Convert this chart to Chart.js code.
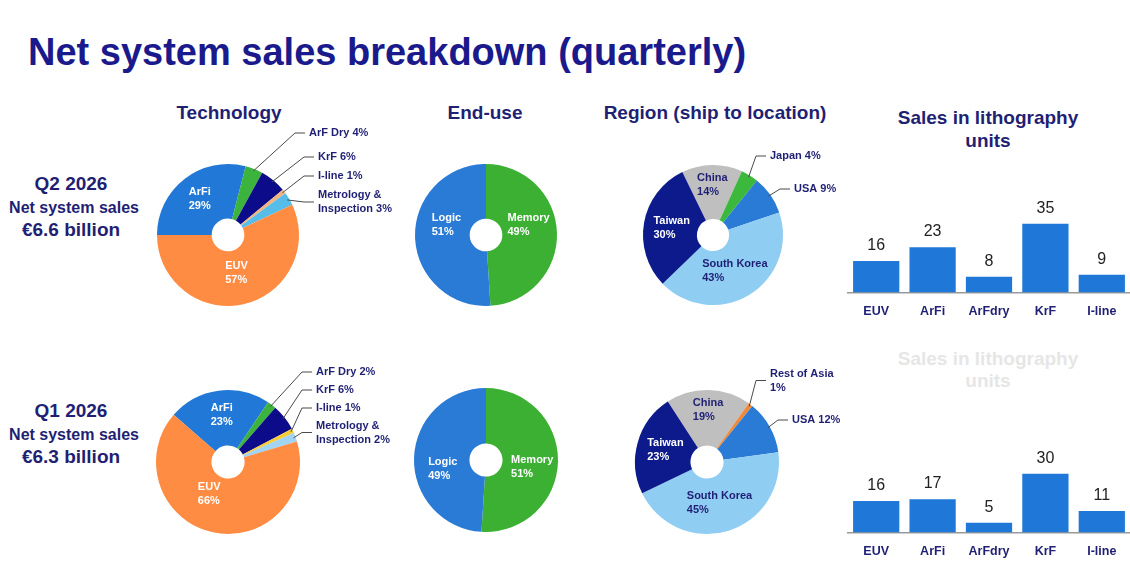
<!DOCTYPE html>
<html lang="en">
<head>
<meta charset="UTF-8">
<title>Net system sales breakdown (quarterly)</title>
<script src="https://cdn.jsdelivr.net/npm/chart.js@4.4.1/dist/chart.umd.min.js"></script>
<style>
    body {
        margin: 0;
        width: 1130px;
        height: 576px;
        background: #fff;
        position: relative;
        overflow: hidden;
        font-family: Arial, "Liberation Sans", sans-serif;
    }
    .t {
        position: absolute;
        color: #1f1f74;
        font-weight: bold;
        white-space: nowrap;
        line-height: 1;
        transform: translate(-50%, -50%);
    }
    .h { font-size: 19px; }
    .big { font-size: 19px; }
    .mid { font-size: 16px; }
    .faint { color: #e6e6e6; }
    #title {
        position: absolute;
        left: 28px;
        top: 33px;
        font-size: 38px;
        font-weight: bold;
        color: #1a1a8c;
        line-height: 1;
        white-space: nowrap;
    }
    canvas { position: absolute; }
</style>
</head>
<body>
<div id="title">Net system sales breakdown (quarterly)</div>

<div class="t big" style="left:71px; top:183px;">Q2 2026</div>
<div class="t mid" style="left:74px; top:208px;">Net system sales</div>
<div class="t big" style="left:71px; top:229px;">€6.6 billion</div>

<div class="t big" style="left:71px; top:410px;">Q1 2026</div>
<div class="t mid" style="left:74px; top:435px;">Net system sales</div>
<div class="t big" style="left:71px; top:456px;">€6.3 billion</div>

<div class="t h" style="left:229px; top:112px;">Technology</div>
<div class="t h" style="left:485px; top:112px;">End-use</div>
<div class="t h" style="left:715px; top:112px;">Region (ship to location)</div>
<div class="t h" style="left:988px; top:117px;">Sales in lithography</div>
<div class="t h" style="left:988px; top:140px;">units</div>
<div class="t h faint" style="left:988px; top:358px;">Sales in lithography</div>
<div class="t h faint" style="left:988px; top:380px;">units</div>

<canvas id="techQ2"></canvas>
<canvas id="endQ2"></canvas>
<canvas id="regQ2"></canvas>
<canvas id="techQ1"></canvas>
<canvas id="endQ1"></canvas>
<canvas id="regQ1"></canvas>
<canvas id="unitsQ2"></canvas>
<canvas id="unitsQ1"></canvas>

<script>
// data
const techNames = ['ArFi', 'ArF Dry', 'KrF', 'I-line', 'Metrology & Inspection', 'EUV'];
const techQ2 = [29, 4, 6, 1, 3, 57];
const techQ1 = [23, 2, 6, 1, 2, 66];

const endUseNames = ['Memory', 'Logic'];
const endUseQ2 = [49, 51];
const endUseQ1 = [51, 49];

const regionNamesQ2 = ['China', 'Japan', 'USA', 'South Korea', 'Taiwan'];
const regionQ2 = [14, 4, 9, 43, 30];
const regionNamesQ1 = ['China', 'Rest of Asia', 'USA', 'South Korea', 'Taiwan'];
const regionQ1 = [19, 1, 12, 45, 23];

const unitCats = ['EUV', 'ArFi', 'ArFdry', 'KrF', 'I-line'];
const unitsQ2 = [16, 23, 8, 35, 9];
const unitsQ1 = [16, 17, 5, 30, 11];

// colours
const NAVY = '#1f1f74';
const techColorsQ2 = ['#2178d6', '#3cb33c', '#0c0c8a', '#f2b37e', '#55bde8', '#ff8c42'];
const techColorsQ1 = ['#2178d6', '#3cb33c', '#0c0c8a', '#f5cc3a', '#a0d4f2', '#ff8c42'];
const endUseColors = ['#3bb032', '#2a7bd6'];
const regionColorsQ2 = ['#bfbfbf', '#3cb83c', '#2a7bd6', '#8fcdf2', '#0d1a8c'];
const regionColorsQ1 = ['#bfbfbf', '#f08a3a', '#2a7bd6', '#8fcdf2', '#0d1a8c'];

// label placement per slice (in = inside at fraction f of radius, out = text offset from centre)
const techLayoutQ2 = [{ f: .65 }, { out: [81, -102] }, { out: [90, -78] }, { out: [90, -59] }, { out: [90, -33], lines: 'amp' }, { f: .55 }];
const techLayoutQ1 = [{ f: .66 }, { out: [88, -90] }, { out: [88, -72] }, { out: [88, -54] }, { out: [88, -29.5], lines: 'amp' }, { f: .45, dx: -12 }];
const endLayoutQ2 = [{ f: .6, dy: -9 }, { f: .6, dx: 3, dy: -11 }];
const endLayoutQ1 = [{ f: .6, dx: 3, dy: 6 }, { f: .6, dy: 10 }];
const regLayoutQ2 = [{ f: .72, c: NAVY }, { out: [57, -79] }, { out: [81, -46] }, { f: .6, c: NAVY }, { f: .6 }];
const regLayoutQ1 = [{ f: .72, c: NAVY }, { out: [63, -81.5], lines: 'stack' }, { out: [85, -42] }, { f: .6, c: NAVY }, { f: .6 }];

const sliceLabels = {
    id: 'sliceLabels',
    afterDatasetsDraw(chart, args, opts) {
        const ctx = chart.ctx;
        const meta = chart.getDatasetMeta(0);
        const values = chart.data.datasets[0].data;
        ctx.save();
        ctx.font = 'bold 11px Arial, "Liberation Sans", sans-serif';
        ctx.textBaseline = 'middle';
        ctx.textAlign = 'left';
        meta.data.forEach((arc, i) => {
            const L = opts.layout[i];
            const p = arc.getProps(['x', 'y', 'startAngle', 'endAngle', 'outerRadius'], true);
            const mid = (p.startAngle + p.endAngle) / 2;
            const name = chart.data.labels[i];
            const pct = values[i] + '%';
            const lh = 14;
            if (L.out) {
                let lines;
                if (L.lines === 'amp') {
                    const k = name.indexOf('& ') + 1;
                    lines = [name.slice(0, k), name.slice(k + 1) + ' ' + pct];
                } else if (L.lines === 'stack') {
                    lines = [name, pct];
                } else {
                    lines = [name + ' ' + pct];
                }
                const tx = p.x + L.out[0];
                const ty = p.y + L.out[1];
                ctx.strokeStyle = '#4a4a4a';
                ctx.lineWidth = 1;
                ctx.beginPath();
                ctx.moveTo(p.x + p.outerRadius * 0.97 * Math.cos(mid), p.y + p.outerRadius * 0.97 * Math.sin(mid));
                ctx.lineTo(tx - 14, ty);
                ctx.lineTo(tx - 4, ty);
                ctx.stroke();
                ctx.fillStyle = NAVY;
                lines.forEach((s, j) => {
                    ctx.fillText(s, tx, ty + (j - (lines.length - 1) / 2) * lh);
                });
            } else {
                const lines = [name, pct];
                const ax = p.x + L.f * p.outerRadius * Math.cos(mid) + (L.dx || 0);
                const ay = p.y + L.f * p.outerRadius * Math.sin(mid) + (L.dy || 0);
                const w = Math.max(...lines.map(s => ctx.measureText(s).width));
                ctx.fillStyle = L.c || '#ffffff';
                lines.forEach((s, j) => {
                    ctx.fillText(s, ax - w / 2, ay + (j - 0.5) * lh);
                });
            }
        });
        ctx.restore();
    }
};

function pie(id, cx, cy, r, names, values, colors, rotation, layout) {
    const W = 270, H = 240, ox = 80, oy = 120;
    const cv = document.getElementById(id);
    cv.width = W;
    cv.height = H;
    cv.style.left = (cx - ox) + 'px';
    cv.style.top = (cy - oy) + 'px';
    cv.style.width = W + 'px';
    cv.style.height = H + 'px';
    new Chart(cv, {
        type: 'doughnut',
        data: {
            labels: names,
            datasets: [{ data: values, backgroundColor: colors, borderWidth: 0 }]
        },
        options: {
            responsive: false,
            animation: false,
            devicePixelRatio: 1,
            rotation: rotation,
            cutout: '23%',
            layout: { padding: { left: ox - r, top: oy - r, right: W - ox - r, bottom: H - oy - r } },
            plugins: {
                legend: { display: false },
                tooltip: { enabled: false },
                sliceLabels: { layout: layout }
            }
        },
        plugins: [sliceLabels]
    });
}

const barValues = {
    id: 'barValues',
    afterDatasetsDraw(chart) {
        const ctx = chart.ctx;
        const meta = chart.getDatasetMeta(0);
        ctx.save();
        ctx.font = '16px Arial, "Liberation Sans", sans-serif';
        ctx.fillStyle = '#222';
        ctx.textAlign = 'center';
        ctx.textBaseline = 'middle';
        meta.data.forEach((bar, i) => {
            ctx.fillText(chart.data.datasets[0].data[i], bar.x, bar.y - 15.5);
        });
        ctx.restore();
    }
};

function bars(id, axisY, cats, values) {
    const W = 285, H = 150, left = 845, top = axisY - 113;
    const cv = document.getElementById(id);
    cv.width = W;
    cv.height = H;
    cv.style.left = left + 'px';
    cv.style.top = top + 'px';
    cv.style.width = W + 'px';
    cv.style.height = H + 'px';
    new Chart(cv, {
        type: 'bar',
        data: {
            labels: cats,
            datasets: [{ data: values, backgroundColor: '#1f78d8', categoryPercentage: 1, barPercentage: 0.82 }]
        },
        options: {
            responsive: false,
            animation: false,
            devicePixelRatio: 1,
            layout: { padding: { left: 3, right: 0, top: 34, bottom: 6.5 } },
            scales: {
                x: {
                    grid: { display: false },
                    border: { display: true, color: '#9a9a9a', width: 1.5 },
                    ticks: { color: NAVY, font: { family: 'Arial, "Liberation Sans", sans-serif', size: 12.5, weight: 'bold' }, padding: 4 }
                },
                y: { display: false, min: 0, max: 40 }
            },
            plugins: { legend: { display: false }, tooltip: { enabled: false } }
        },
        plugins: [barValues]
    });
}

pie('techQ2', 228, 235, 71, techNames, techQ2, techColorsQ2, -90, techLayoutQ2);
pie('endQ2', 486, 235, 71, endUseNames, endUseQ2, endUseColors, 0, endLayoutQ2);
pie('regQ2', 713, 235, 70, regionNamesQ2, regionQ2, regionColorsQ2, -26, regLayoutQ2);
pie('techQ1', 228, 462, 72, techNames, techQ1, techColorsQ1, -49, techLayoutQ1);
pie('endQ1', 486, 460, 72, endUseNames, endUseQ1, endUseColors, 0, endLayoutQ1);
pie('regQ1', 707, 462, 72, regionNamesQ1, regionQ1, regionColorsQ1, -33, regLayoutQ1);

bars('unitsQ2', 293, unitCats, unitsQ2);
bars('unitsQ1', 533, unitCats, unitsQ1);
</script>
</body>
</html>
